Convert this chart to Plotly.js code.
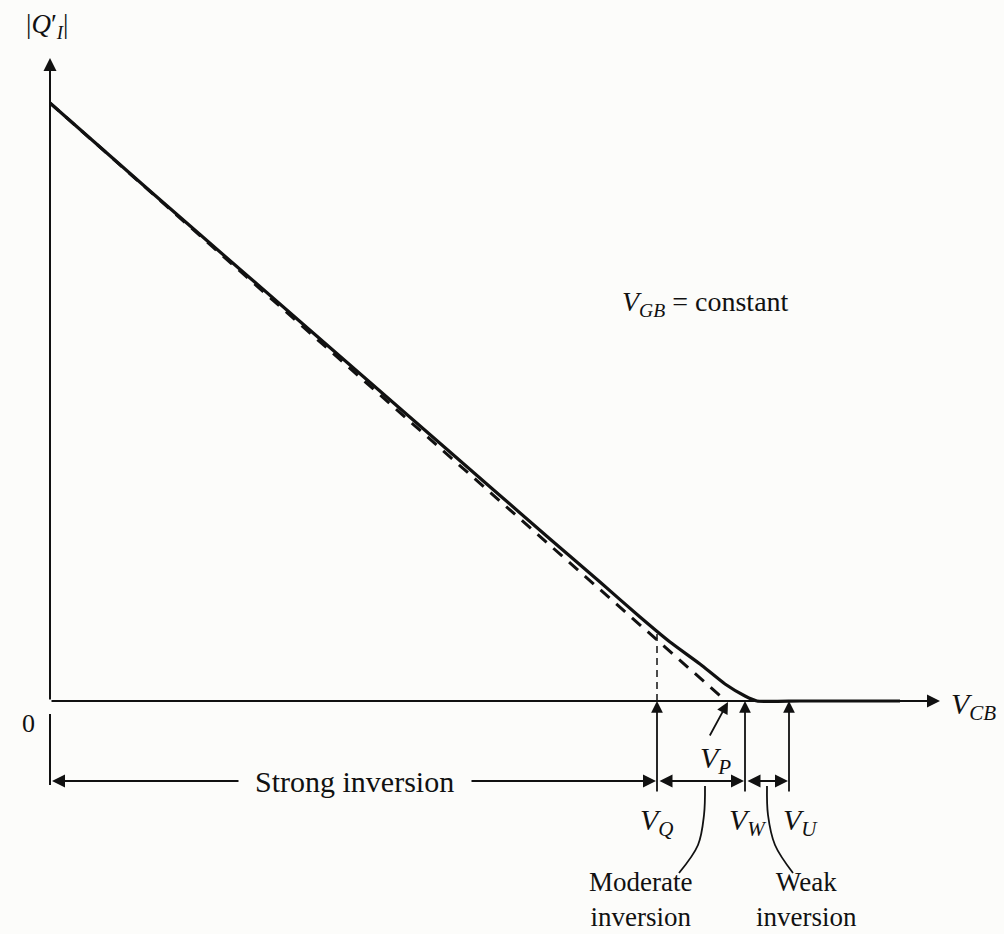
<!DOCTYPE html>
<html>
<head>
<meta charset="utf-8">
<script src="https://cdn.plot.ly/plotly-3.0.1.min.js"></script>
<style>html,body{margin:0;padding:0;background:#fcfcfa;}#chart{width:1004px;height:934px;}</style>
</head>
<body>
<div id="chart"></div>
<script>
// Inversion charge magnitude |Q'I| versus V_CB (arbitrary units)
const vcbSolid = [0, 1, 2, 3, 4, 5, 5.5, 5.9, 6.2, 6.5, 6.75, 6.95, 7.07, 7.5, 8.5];
const qSolid   = [5.98, 5.10, 4.23, 3.36, 2.49, 1.62, 1.19, 0.84, 0.59, 0.37, 0.17, 0.05, 0, 0, 0];
const vcbDashed = [0, 6.76];
const qDashed   = [5.98, 0];
// Characteristic voltages
const VQ = 6.07, VP = 6.76, VW = 6.95, VU = 7.39;
const qAtVQ = 0.70;
const markerNames = ["V<sub>Q</sub>", "V<sub>W</sub>", "V<sub>U</sub>"];
const markerVals = [VQ, VW, VU];
const regionLabels = ["Strong inversion", "Moderate<br>inversion", "Weak<br>inversion"];

const FONT = "Liberation Serif, Times New Roman, serif";
const BLACK = "#111";
const yArrowRow = -0.80;
const yMarkBottom = -0.92;

const traces = [
  {x: vcbSolid, y: qSolid, mode: "lines", line: {color: BLACK, width: 3.2, shape: "spline", smoothing: 0.5}, hoverinfo: "skip"},
  {x: vcbDashed, y: qDashed, mode: "lines", line: {color: BLACK, width: 3, dash: "12px,9px"}, hoverinfo: "skip"},
  {x: [VQ, VQ], y: [0, qAtVQ], mode: "lines", line: {color: BLACK, width: 1.5, dash: "7px,5px"}, hoverinfo: "skip"},
  // tick below origin
  {x: [0, 0], y: [-0.13, -0.84], mode: "lines", line: {color: BLACK, width: 2}, hoverinfo: "skip"},
  // leader curves
  {x: [6.55, 6.54, 6.48, 6.29], y: [-0.85, -1.14, -1.44, -1.72], mode: "lines", line: {color: BLACK, width: 1.8, shape: "spline"}, hoverinfo: "skip"},
  {x: [7.17, 7.18, 7.25, 7.43], y: [-0.85, -1.14, -1.44, -1.72], mode: "lines", line: {color: BLACK, width: 1.8, shape: "spline"}, hoverinfo: "skip"}
];

function arrow(x, y, ax, ay, opts) {
  return Object.assign({
    x: x, y: y, ax: ax, ay: ay, xref: "x", yref: "y", axref: "x", ayref: "y",
    text: "", showarrow: true, arrowhead: 2, arrowsize: 1.3, arrowwidth: 2,
    arrowcolor: BLACK, standoff: 0, startstandoff: 0
  }, opts || {});
}
function label(x, y, text, size, opts) {
  return Object.assign({
    x: x, y: y, xref: "x", yref: "y", text: text, showarrow: false,
    font: {family: FONT, size: size, color: BLACK}, xanchor: "center", yanchor: "middle"
  }, opts || {});
}

const ann = [
  arrow(0, 6.43, 0, 0, {arrowwidth: 2}),
  arrow(8.9, 0, 0, 0, {arrowwidth: 2}),
  arrow(VP + 0.02, -0.01, VP - 0.17, -0.36, {arrowwidth: 1.8}),
  arrow(0.02, yArrowRow, 1.9, yArrowRow),
  arrow(VQ - 0.01, yArrowRow, 4.2, yArrowRow),
  arrow(VW - 0.01, yArrowRow, VQ + 0.01, yArrowRow, {arrowside: "end+start"}),
  arrow(VU - 0.01, yArrowRow, VW + 0.01, yArrowRow, {arrowside: "end+start"}),
  label(-0.03, 6.75, "|<i>Q</i>′<sub><i>I</i></sub>|", 27),
  label(-0.22, -0.22, "0", 26),
  label(9.23, -0.05, "<i>V</i><sub><i>CB</i></sub>", 30),
  label(6.55, 3.98, "<i>V</i><sub><i>GB</i></sub> = constant", 28),
  label(3.04, yArrowRow, regionLabels[0], 30),
  label(6.65, -0.59, "<i>V</i><sub><i>P</i></sub>", 30),
  label(5.90, -1.98, regionLabels[1], 27),
  label(7.56, -1.98, regionLabels[2], 27)
];
markerVals.forEach(function (v, i) {
  ann.push(arrow(v, 0, v, yMarkBottom, {arrowwidth: 1.8}));
  ann.push(label(v + (i === 2 ? 0.11 : (i === 1 ? 0.03 : 0)), -1.21, "<i>" + markerNames[i].replace("<sub>", "<sub><i>").replace("</sub>", "</i></sub>") + "</i>", 30));
});

const layout = {
  width: 1004, height: 934,
  margin: {l: 0, r: 0, t: 0, b: 0},
  paper_bgcolor: "#fcfcfa", plot_bgcolor: "#fcfcfa",
  showlegend: false,
  xaxis: {range: [-0.5, 9.54], visible: false, fixedrange: true},
  yaxis: {range: [-2.33, 7.01], visible: false, fixedrange: true},
  annotations: ann
};
Plotly.newPlot("chart", traces, layout, {staticPlot: true});
</script>
</body>
</html>
